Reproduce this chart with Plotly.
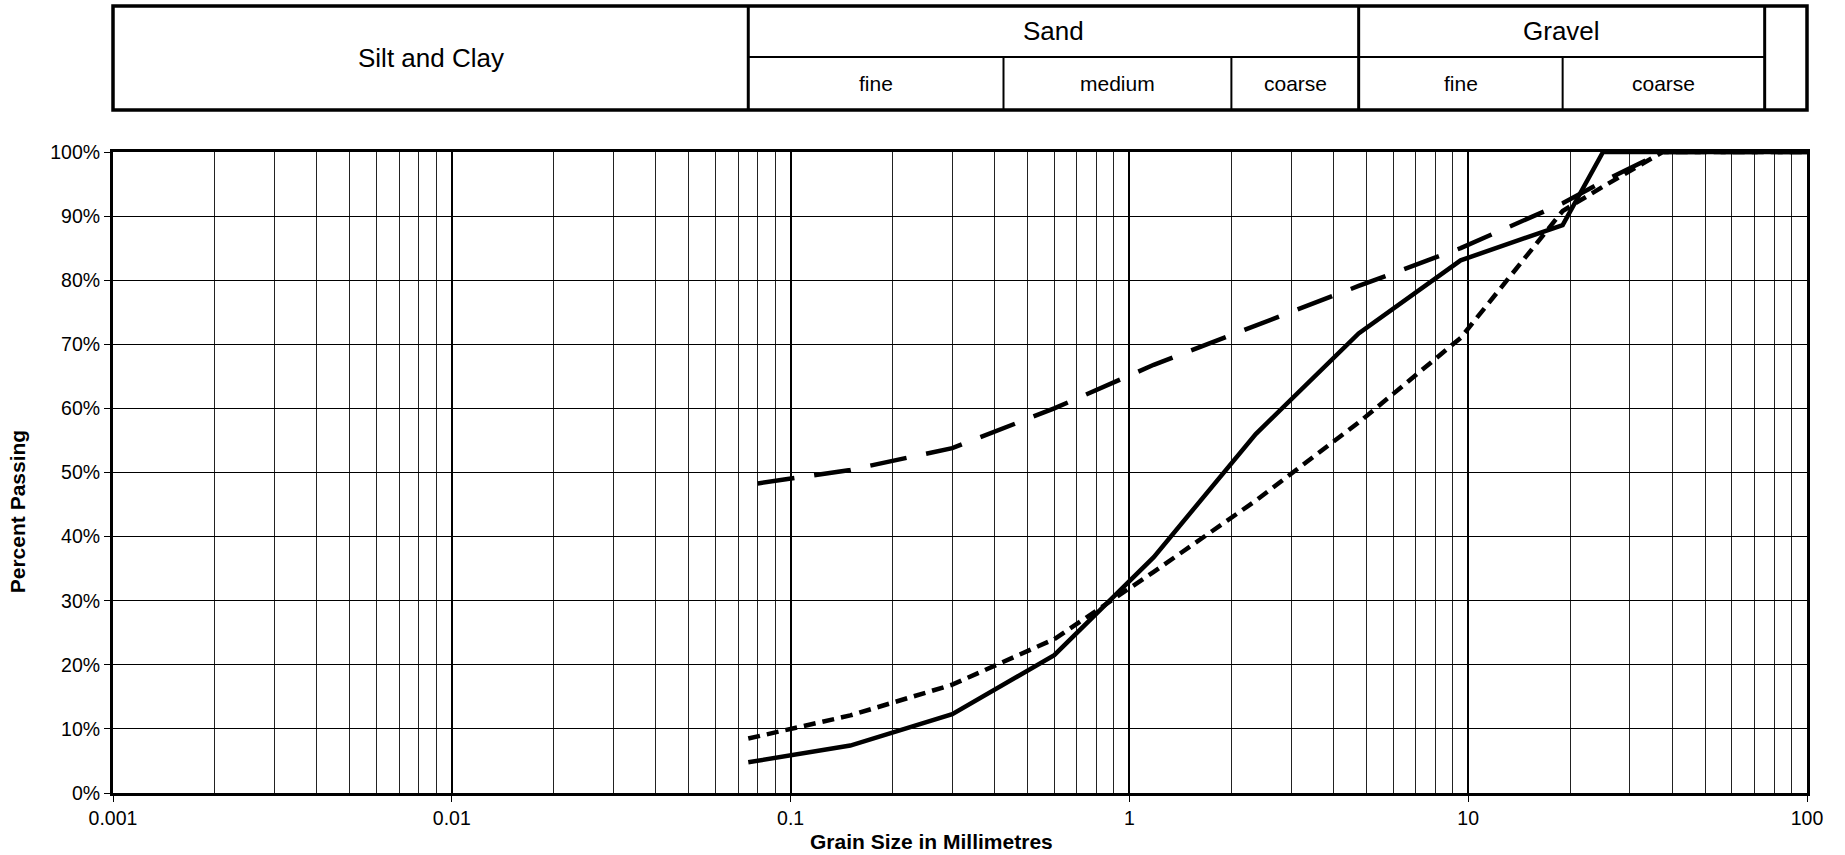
import math
import plotly.graph_objects as go

# ---------------- data ----------------
sieve_mm = [0.075, 0.15, 0.3, 0.6, 1.18, 2.36, 4.75, 9.5, 19, 25, 37.5, 50, 75, 100]
solid_pct = [4.8, 7.4, 12.3, 21.5, 36.8, 56.0, 71.7, 83.1, 88.6, 100, 100, 100, 100, 100]

dotted_mm = [0.075, 0.15, 0.3, 0.6, 1.18, 2.36, 4.75, 9.5, 19, 25, 37.5, 50, 75, 100]
dotted_pct = [8.5, 12.1, 16.9, 24.0, 34.5, 45.6, 57.8, 71.0, 90.8, 94.6, 100, 100, 100, 100]

dashed_mm = [0.08, 0.15, 0.3, 0.6, 1.18, 2.36, 4.75, 9.5, 19, 25, 37.5, 50, 75, 100]
dashed_pct = [48.3, 50.4, 53.8, 60.0, 66.8, 73.0, 79.1, 85.0, 92.0, 95.4, 100, 100, 100, 100]

x_tick_vals = [0.001, 0.01, 0.1, 1, 10, 100]
x_tick_text = ["0.001", "0.01", "0.1", "1", "10", "100"]
x_minor_vals = [k * 10 ** e for e in range(-3, 2) for k in range(2, 10)]
y_tick_vals = [0, 10, 20, 30, 40, 50, 60, 70, 80, 90, 100]
y_tick_text = [f"{v}%" for v in y_tick_vals]

group_labels = ["Silt and Clay", "Sand", "Gravel"]
group_bounds = [(0.001, 0.075), (0.075, 4.75), (4.75, 75)]
sub_labels = ["fine", "medium", "coarse", "fine", "coarse"]
sub_bounds = [(0.075, 0.425), (0.425, 2.0), (2.0, 4.75), (4.75, 19), (19, 75)]

x_title = "Grain Size in Millimetres"
y_title = "Percent Passing"

# ---------------- figure ----------------
FONT = "Arial, Liberation Sans, sans-serif"
fig = go.Figure()

fig.add_trace(go.Scatter(x=sieve_mm, y=solid_pct, mode="lines",
                         line=dict(color="black", width=4.5, dash="solid"),
                         showlegend=False, hoverinfo="skip"))
fig.add_trace(go.Scatter(x=dotted_mm, y=dotted_pct, mode="lines",
                         line=dict(color="black", width=4.5, dash="12px,7px"),
                         showlegend=False, hoverinfo="skip"))
fig.add_trace(go.Scatter(x=dashed_mm, y=dashed_pct, mode="lines",
                         line=dict(color="black", width=4.5, dash="37px,20px"),
                         showlegend=False, hoverinfo="skip"))

fig.update_xaxes(
    type="log", range=[-3, 2],
    tickmode="array", tickvals=x_tick_vals, ticktext=x_tick_text,
    showgrid=True, gridcolor="black", gridwidth=2,
    minor=dict(tickmode="array", tickvals=x_minor_vals, showgrid=True,
               gridcolor="#222222", gridwidth=1, ticks=""),
    showline=True, linecolor="black", linewidth=3, mirror=True,
    ticks="outside", ticklen=6, tickwidth=1, tickcolor="black",
    tickfont=dict(family=FONT, size=19.5, color="black"),
)
fig.update_yaxes(
    range=[0, 100], tickmode="array", tickvals=y_tick_vals, ticktext=y_tick_text,
    showgrid=True, gridcolor="black", gridwidth=1, zeroline=False,
    showline=True, linecolor="black", linewidth=3, mirror=True,
    ticks="outside", ticklen=6, tickwidth=1, tickcolor="black",
    tickfont=dict(family=FONT, size=19.5, color="black"),
)

# header table (paper y above plot area)
Y_TOP, Y_MID, Y_BOT = 1.2278, 1.1482, 1.0655
shapes = []
shapes.append(dict(type="rect", xref="paper", yref="paper", x0=0, x1=1, y0=Y_BOT, y1=Y_TOP,
                   line=dict(color="black", width=3.5), fillcolor="rgba(0,0,0,0)"))
for (a, b) in group_bounds:
    shapes.append(dict(type="line", xref="x", yref="paper", x0=b, x1=b, y0=Y_BOT, y1=Y_TOP,
                       line=dict(color="black", width=3)))
shapes.append(dict(type="line", xref="x", yref="paper",
                   x0=group_bounds[1][0], x1=group_bounds[2][1], y0=Y_MID, y1=Y_MID,
                   line=dict(color="black", width=2)))
for (a, b) in sub_bounds:
    if b not in (4.75, 75):
        shapes.append(dict(type="line", xref="x", yref="paper", x0=b, x1=b, y0=Y_BOT, y1=Y_MID,
                           line=dict(color="black", width=2)))
fig.update_layout(shapes=shapes)


def gm(a, b):
    return (math.log10(a) + math.log10(b)) / 2


annotations = []
annotations.append(dict(text=group_labels[0], x=gm(*group_bounds[0]), y=(Y_TOP + Y_BOT) / 2,
                        xref="x", yref="paper", showarrow=False, xanchor="center", yanchor="middle",
                        font=dict(family=FONT, size=26, color="black")))
for lbl, (a, b) in zip(group_labels[1:], group_bounds[1:]):
    annotations.append(dict(text=lbl, x=gm(a, b), y=(Y_TOP + Y_MID) / 2,
                            xref="x", yref="paper", showarrow=False, xanchor="center", yanchor="middle",
                            font=dict(family=FONT, size=26, color="black")))
for lbl, (a, b) in zip(sub_labels, sub_bounds):
    annotations.append(dict(text=lbl, x=gm(a, b), y=(Y_MID + Y_BOT) / 2,
                            xref="x", yref="paper", showarrow=False, xanchor="center", yanchor="middle",
                            font=dict(family=FONT, size=21, color="black")))
annotations.append(dict(text=f"<b>{x_title}</b>", x=0.483, y=0, xref="paper", yref="paper",
                        yshift=-48, showarrow=False, xanchor="center", yanchor="middle",
                        font=dict(family=FONT, size=21, color="black")))
annotations.append(dict(text=f"<b>{y_title}</b>", x=0, y=0.438, xref="paper", yref="paper",
                        xshift=-96, textangle=-90, showarrow=False, xanchor="center", yanchor="middle",
                        font=dict(family=FONT, size=21, color="black")))
fig.update_layout(annotations=annotations)

fig.update_layout(
    width=1845, height=855,
    margin=dict(l=113, r=38, t=152, b=62),
    paper_bgcolor="white", plot_bgcolor="white",
    font=dict(family=FONT, color="black"),
)

# remove the page's default body margin so the figure fills the window exactly
fig.write_html(
    "out.html",
    config={"displayModeBar": False},
    post_script="document.body.style.margin='0';document.body.style.overflow='hidden';"
                "document.documentElement.style.overflow='hidden';",
)
